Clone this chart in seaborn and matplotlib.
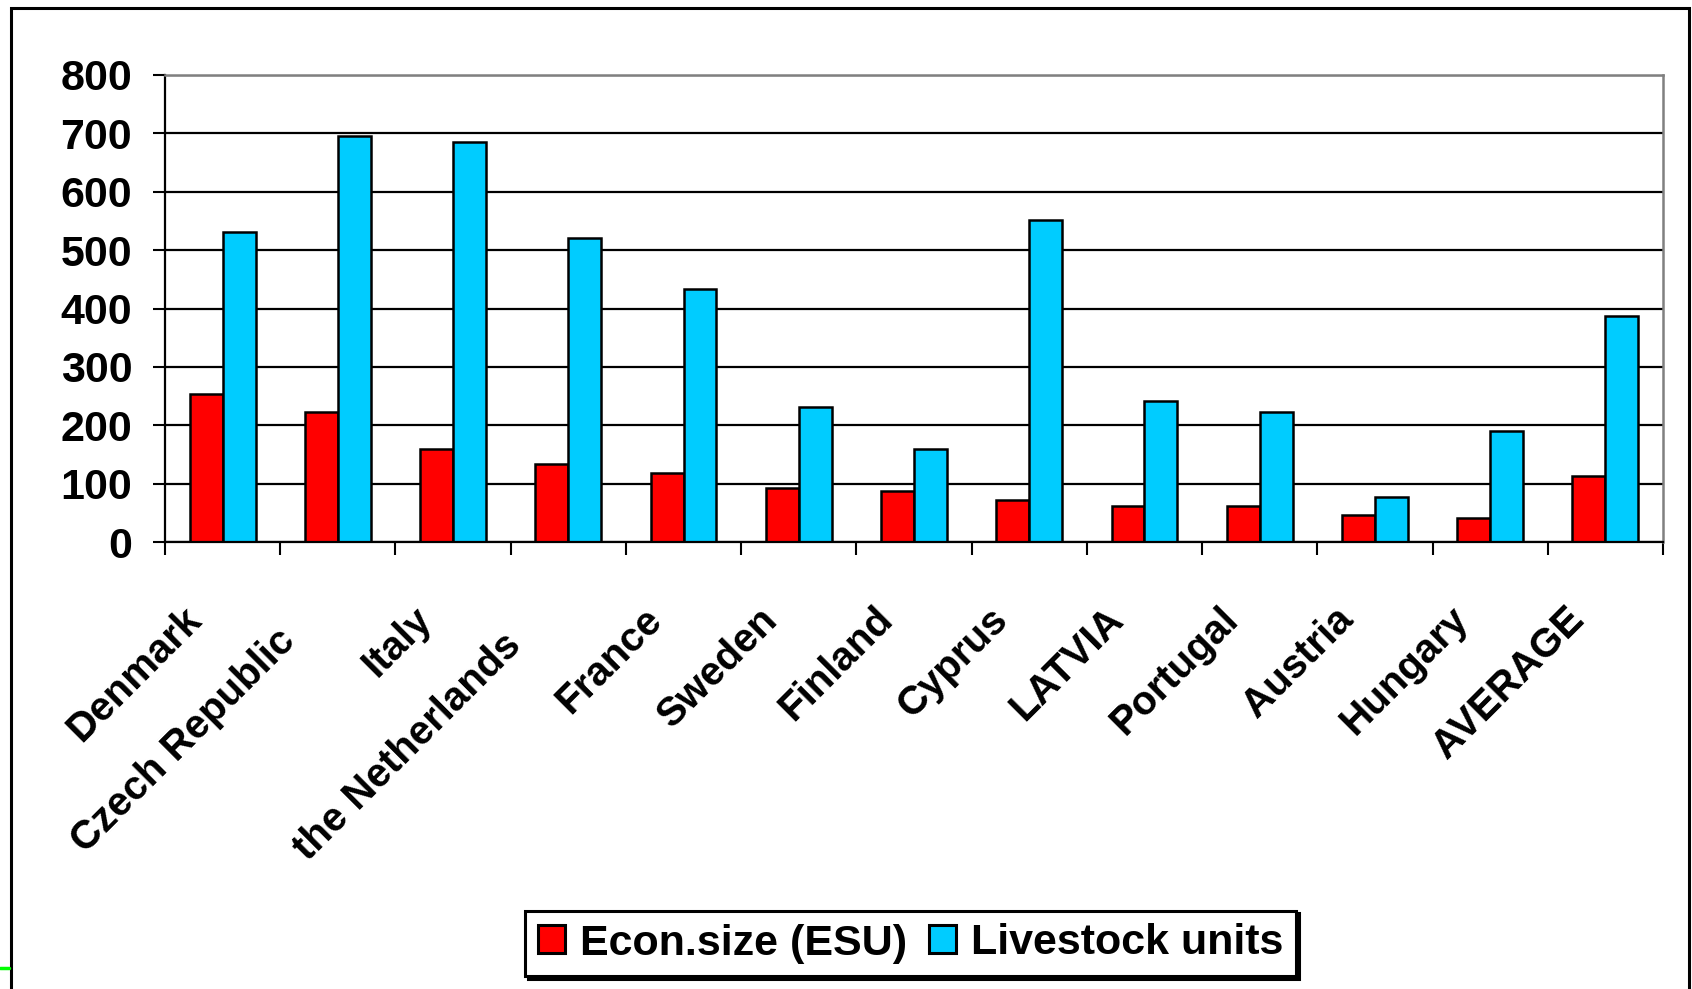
import numpy as np
import pandas as pd
import matplotlib
matplotlib.use("Agg")
import matplotlib.pyplot as plt
from matplotlib.patches import Rectangle
from matplotlib.lines import Line2D
from matplotlib.transforms import ScaledTranslation
import seaborn as sns

# Farm indicators per country
countries = ["Denmark", "Czech Republic", "Italy", "the Netherlands", "France",
             "Sweden", "Finland", "Cyprus", "LATVIA", "Portugal", "Austria",
             "Hungary", "AVERAGE"]
econ_size = [253, 222, 160, 134, 118, 93, 87, 72, 62, 62, 46, 41, 113]
livestock_units = [531, 695, 686, 521, 433, 231, 159, 551, 242, 222, 77, 190, 387]
series_names = ["Econ.size (ESU)", "Livestock units"]
series_colors = ["#FF0000", "#00CCFF"]
y_ticks = [0, 100, 200, 300, 400, 500, 600, 700, 800]

df = pd.DataFrame({
    "country": countries * 2,
    "value": econ_size + livestock_units,
    "series": [series_names[0]] * len(countries) + [series_names[1]] * len(countries),
})

sns.set_style("white")
plt.rcParams["font.family"] = ["Liberation Sans", "DejaVu Sans"]
plt.rcParams["font.weight"] = "bold"
plt.rcParams["text.color"] = "black"
plt.rcParams["xtick.color"] = "black"
plt.rcParams["ytick.color"] = "black"
plt.rcParams["axes.labelcolor"] = "black"

W, H = 1692, 989
fig = plt.figure(figsize=(W / 100, H / 100), dpi=100)
fig.patch.set_facecolor("white")

left, right, top, bottom = 165, 1663, 75, 542
ax = fig.add_axes([left / W, 1 - bottom / H, (right - left) / W, (bottom - top) / H])

sns.barplot(data=df, x="country", y="value", hue="series", order=countries,
            hue_order=series_names, palette=series_colors, saturation=1,
            width=0.571, edgecolor="black", linewidth=1.8, errorbar=None,
            legend=True, ax=ax)

ax.set_ylim(0, 800)
ax.set_xlim(-0.5, len(countries) - 0.5)
ax.set_xlabel("")
ax.set_ylabel("")

# horizontal gridlines
ax.set_axisbelow(True)
ax.set_yticks(y_ticks)
ax.set_yticklabels([str(v) for v in y_ticks], fontsize=31, fontweight="bold",
                   color="black")
ax.yaxis.grid(True, color="black", linewidth=1.6)
ax.xaxis.grid(False)

# tick marks on category boundaries, labels on category centres
ax.set_xticks(np.arange(-0.5, len(countries), 1.0))
ax.set_xticklabels([""] * (len(countries) + 1))
ax.set_xticks(np.arange(len(countries)), minor=True)
ax.set_xticklabels(countries, minor=True, rotation=45, ha="right", va="top",
                   rotation_mode="anchor", fontsize=29, fontweight="bold",
                   color="black")
ax.tick_params(axis="x", which="major", direction="out", length=9.4, width=1.5,
               color="black", bottom=True)
ax.tick_params(axis="x", which="minor", length=0, pad=0)
ax.tick_params(axis="y", direction="out", length=8.6, width=1.5, color="black",
               pad=15, left=True)

# rotated labels sit down-left of the category centre; long names slide
# further back along their own direction
for lab in ax.get_xticklabels(minor=True):
    back = max(0, len(lab.get_text()) - 9) * 6.0
    dx = -41 - back * 0.707
    dy = -58 - back * 0.707
    lab.set_transform(lab.get_transform() +
                      ScaledTranslation(dx / 100, dy / 100, fig.dpi_scale_trans))

for side in ["left", "bottom"]:
    ax.spines[side].set_color("black")
    ax.spines[side].set_linewidth(1.6)
for side in ["top", "right"]:
    ax.spines[side].set_color("#808080")
    ax.spines[side].set_linewidth(1.8)
    ax.spines[side].set_visible(True)

# legend at the bottom with a framed box
handles, labels = ax.get_legend_handles_labels()
ax.legend_.remove()
leg = fig.legend(handles, labels, loc="center", ncol=2,
                 bbox_to_anchor=(910.5 / W, 45.5 / H), bbox_transform=fig.transFigure,
                 prop={"family": ["Liberation Sans", "DejaVu Sans"], "weight": "bold", "size": 31},
                 handlelength=0.63, handleheight=0.63, handletextpad=0.35,
                 columnspacing=0.5, borderpad=0.3, borderaxespad=0,
                 frameon=True, fancybox=False, edgecolor="black",
                 shadow={"color": "black", "alpha": 1.0})
leg.get_frame().set_linewidth(2.2)
for t in leg.get_texts():
    t.set_color("black")
for h in leg.legend_handles:
    h.set_edgecolor("black")
    h.set_linewidth(2.2)

# outer chart border and small marker at the lower-left edge
fig.add_artist(Rectangle((11 / W, -0.05), (1689 - 11) / W, 1.05 - 8 / H,
                         transform=fig.transFigure, fill=False,
                         edgecolor="black", linewidth=2.2, clip_on=False))
fig.add_artist(Line2D([0, 9 / W], [1 - 968 / H, 1 - 968 / H],
                      transform=fig.transFigure, color="#00FF00", linewidth=2.5))

fig.savefig("out.png", dpi=100)
